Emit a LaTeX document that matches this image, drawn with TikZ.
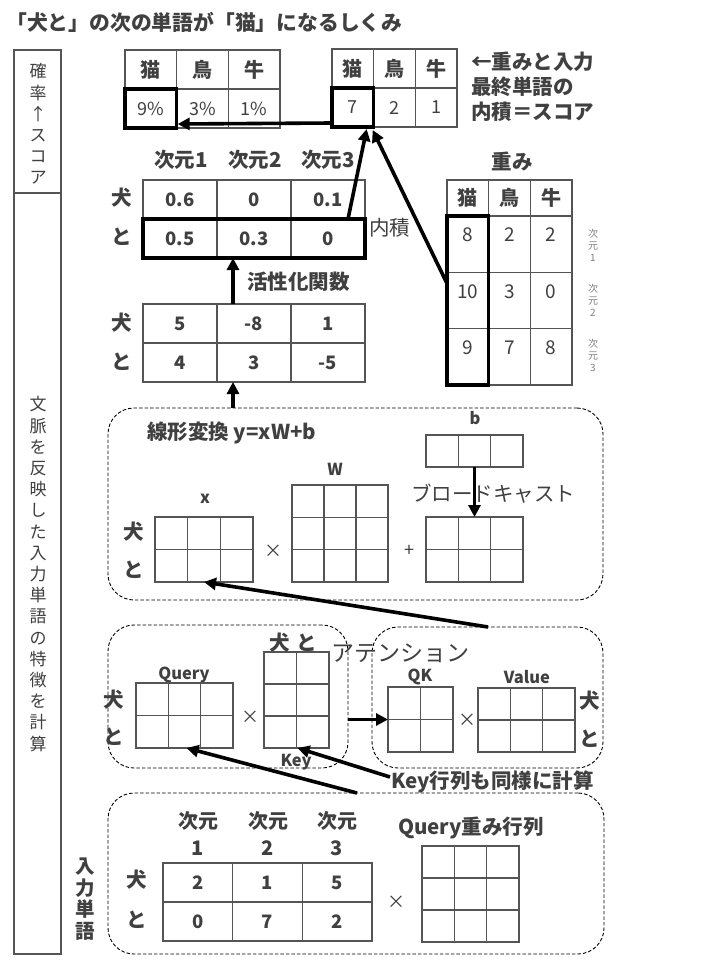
\documentclass[tikz,border=0pt]{standalone}
\usepackage{fontspec}
\setmainfont{Noto Sans CJK JP}
\usetikzlibrary{arrows.meta,fit}
\definecolor{tc}{HTML}{404040}
\definecolor{lc}{HTML}{555555}
\tikzset{
  cell/.style={draw=lc, line width=1.2pt, inner sep=0pt, outer sep=0pt},
  hl/.style={draw=black, line width=3.6pt, inner sep=0pt, outer sep=0pt},
  arr/.style={line width=3.6pt, -{Triangle[length=12pt,width=12pt]}},
  dbox/.style={draw=black, line width=0.9pt, dash pattern=on 3.5pt off 2pt, rounded corners=26pt, inner sep=0pt},
  bl/.style={font=\bfseries\fontsize{20.5}{23}\selectfont, text=tc, inner sep=0pt},
  bs/.style={font=\bfseries\fontsize{16.5}{19}\selectfont, text=tc, inner sep=0pt},
  nb/.style={font=\bfseries\fontsize{18.5}{21}\selectfont, text=tc, inner sep=0pt},
  nr/.style={font=\fontsize{18}{21}\selectfont, text=tc, inner sep=0pt},
  hd/.style={font=\bfseries\fontsize{20}{22}\selectfont, text=tc, inner sep=0pt},
  rg/.style={font=\fontsize{20.5}{23}\selectfont, text=tc, inner sep=0pt},
  op/.style={font=\fontsize{18}{20}\selectfont, text=tc, inner sep=0pt},
  vt/.style={font=\fontsize{17}{21.2}\selectfont, text=tc, align=center, inner sep=0pt},
  sm/.style={font=\fontsize{10}{12}\selectfont, text=gray, align=center, inner sep=0pt},
}
\newcommand\mtx[7]{%
  \pgfmathsetmacro\mxcw{(#4-#2)/#6}%
  \pgfmathsetmacro\mxrh{(#5-#3)/#7}%
  \node[inner sep=0pt,outer sep=0pt,minimum width={(#4-#2)*1pt},minimum height={(#5-#3)*1pt}] (#1) at ({(#2+#4)/2},{(#3+#5)/2}) {};%
  \foreach \mxc in {1,...,#6}{\foreach \mxr in {1,...,#7}{%
    \node[cell,minimum width=\mxcw pt,minimum height=\mxrh pt] (#1-\mxr-\mxc) at ({#2+(\mxc-0.5)*\mxcw},{#3+(\mxr-0.5)*\mxrh}) {};%
  }}%
}
\newcommand\rowtext[4]{\foreach \mxv [count=\mxc] in {#4}{\node[#3] (#1-t#2-\mxc) at (#1-#2-\mxc) {\mxv};}}
\begin{document}
\begin{tikzpicture}[x=1pt,y=-1pt]
\fill[white] (0,0) rectangle (720,960);
\useasboundingbox (0,0) rectangle (720,960);

% title
\node[font=\bfseries\fontsize{20.8}{24}\selectfont, text=tc, anchor=west, inner sep=0pt] (title) at (6,22) {「犬と」の次の単語が「猫」になるしくみ};

% left column
\node[draw=lc, line width=1.2pt, minimum width=47pt, minimum height=143pt, inner sep=0pt] (colA) at (37.5,121.5) {};
\node[draw=lc, line width=1.2pt, minimum width=47pt, minimum height=761pt, inner sep=0pt] (colB) at (37.5,573.5) {};
\node[vt] (colAt) at (38,124) {確\\率\\↑\\ス\\コ\\ア};
\node[vt] (colBt) at (38,574) {文\\脈\\を\\反\\映\\し\\た\\入\\力\\単\\語\\の\\特\\徴\\を\\計\\算};
\node[bl, align=center, font=\bfseries\fontsize{19.5}{21.5}\selectfont] (inw) at (85,899) {入\\力\\単\\語};

% top tables
\mtx{ta}{125}{50}{280}{128}{3}{2}
\rowtext{ta}{1}{hd}{猫,鳥,牛}
\rowtext{ta}{2}{nr}{9\%,3\%,1\%}
\node[hl, fit=(ta-2-1)] (hla) {};
\mtx{tb}{332}{49}{457}{127}{3}{2}
\rowtext{tb}{1}{hd}{猫,鳥,牛}
\rowtext{tb}{2}{nr}{7,2,1}
\node[hl, fit=(tb-2-1)] (hlb) {};
\draw[arr] ([yshift=4pt]hlb.south west) -- ([yshift=4pt,xshift=1pt]hla.south east);

\node[bl, anchor=west] (r1) at (471,62) {←重みと入力};
\node[bl, anchor=west] (r2) at (471,87) {最終単語の};
\node[bl, anchor=west] (r3) at (471,112) {内積＝スコア};

% dims
\node[bl] (d1) at (181,160) {次元1};
\node[bl] (d2) at (255,160) {次元2};
\node[bl] (d3) at (328,160) {次元3};

% activated table
\mtx{mid}{143}{180}{365}{258}{3}{2}
\rowtext{mid}{1}{nb}{0.6,0,0.1}
\rowtext{mid}{2}{nb}{0.5,0.3,0}
\node[bl] (mw1) at (122,198) {犬};
\node[bl] (mw2) at (122,237) {と};
\node[hl, fit=(mid-2-1)(mid-2-3)] (hlm) {};
\node[rg, anchor=west] (naiseki) at (369,228) {内積};

% pre-activation table
\mtx{pre}{143}{304}{365}{382}{3}{2}
\rowtext{pre}{1}{nb}{5,-8,1}
\rowtext{pre}{2}{nb}{4,3,-5}
\node[bl] (pw1) at (122,323) {犬};
\node[bl] (pw2) at (122,362) {と};
\coordinate (ax) at (233,0);
\draw[arr] (pre.north -| ax) -- (hlm.south -| ax);
\node[bl, anchor=west] (act) at (247,282) {活性化関数};

% weights
\node[bl] (wt) at (512,162) {重み};
\mtx{wh}{447}{180}{572}{216}{3}{1}
\rowtext{wh}{1}{hd}{猫,鳥,牛}
\mtx{wb}{447}{216}{572}{385}{3}{3}
\foreach \mxv [count=\mxi from 0] in {8,2,2,10,3,0,9,7,8}{
  \pgfmathtruncatemacro\mxr{int(\mxi/3)+1}
  \pgfmathtruncatemacro\mxc{mod(\mxi,3)+1}
  \node[nr, font=\fontsize{19}{21}\selectfont] (wb-t\mxr-\mxc) at ([yshift=-19pt]wb-\mxr-\mxc.north) {\mxv};
}
\node[hl, fit=(wb-1-1)(wb-3-1)] (hlw) {};
\node[sm] (s1) at (593,245) {次\\元\\1};
\node[sm] (s2) at (593,300) {次\\元\\2};
\node[sm] (s3) at (593,355) {次\\元\\3};

\draw[arr] ([xshift=-17pt]hlm.north east) -- ([xshift=-7pt,yshift=-2pt]hlb.south east);
\draw[arr] ([yshift=17pt]hlw.west) -- ([xshift=-1pt,yshift=-3pt]hlb.south east);

% linear box
\node[dbox, minimum width=495pt, minimum height=192pt] (box1) at (355.5,504) {};
\draw[arr] (box1.north -| ax) -- (pre.south -| ax);
\node[bl, anchor=west] (lin) at (147,433) {線形変換 y=xW+b};
\node[bs] (lb) at (475,418) {b};
\mtx{bm}{426}{435}{523}{467}{3}{1}
\node[bs] (lW) at (335,469) {W};
\mtx{Wm}{292}{485}{388}{582}{3}{3}
\node[bs] (lx) at (205,499) {x};
\mtx{xm}{155}{517}{253}{582}{3}{2}
\node[bl] (xw1) at (134,532) {犬};
\node[bl] (xw2) at (134,570) {と};
\node[op] (m1) at (273,551) {×};
\node[op] (p1) at (409,551) {+};
\mtx{ym}{426}{517}{523}{582}{3}{2}
\node[rg, anchor=west] (bc) at (411,494) {ブロードキャスト};
\draw[arr] (bm.south) -- (ym.north);

% attention boxes
\node[dbox, minimum width=240pt, minimum height=143pt] (box2) at (228,696.5) {};
\node[dbox, minimum width=231pt, minimum height=141pt] (box3) at (487.5,697.5) {};
\coordinate (la) at (488,627);
\draw[arr] (la) -- (xm.south);

\node[bs] (lq) at (184,675) {Query};
\mtx{qm}{136}{683}{233}{748}{3}{2}
\node[bl] (qw1) at (114,700) {犬};
\node[bl] (qw2) at (114,737) {と};
\node[op] (m2) at (250,717) {×};
\mtx{km}{264}{652}{329}{748}{2}{3}
\node[bl] (kw1) at (280,643) {犬};
\node[bl] (kw2) at (307,643) {と};
\node[bs] (lk) at (296,762) {Key};
\node[font=\fontsize{23}{25}\selectfont, text=tc, inner sep=0pt, anchor=west] (att) at (331,653) {アテンション};
\node[bs] (lqk) at (420,677) {QK};
\mtx{qkm}{388}{687}{453}{752}{2}{2}
\draw[arr] (box2.east |- qkm.west) -- (qkm.west);
\node[op] (m3) at (467,720) {×};
\node[bs] (lv) at (527,677) {Value};
\mtx{vm}{478}{688}{575}{752}{3}{2}
\node[bl] (vw1) at (590,701) {犬};
\node[bl] (vw2) at (590,739) {と};
\node[bl, anchor=west] (keyc) at (391,782) {Key行列も同様に計算};

% input box
\node[dbox, minimum width=496pt, minimum height=161pt] (box4) at (356,873.5) {};
\coordinate (q0) at (357,793);
\coordinate (k0) at (390,777);
\draw[arr] (q0) -- ([xshift=2pt]qm.south);
\draw[arr] (k0) -- ([xshift=1pt]km.south);

\node[bl, align=center, font=\bfseries\fontsize{20}{27}\selectfont] (id1) at (198,833.5) {次元\\1};
\node[bl, align=center, font=\bfseries\fontsize{20}{27}\selectfont] (id2) at (268,833.5) {次元\\2};
\node[bl, align=center, font=\bfseries\fontsize{20}{27}\selectfont] (id3) at (337,833.5) {次元\\3};
\mtx{im}{163}{863}{372}{941}{3}{2}
\rowtext{im}{1}{nb}{2,1,5}
\rowtext{im}{2}{nb}{0,7,2}
\node[bl] (iw1) at (137,880) {犬};
\node[bl] (iw2) at (137,920) {と};
\node[op] (m4) at (396,902) {×};
\node[bl] (lqw) at (471,828) {Query重み行列};
\mtx{qwm}{422}{846}{519}{942}{3}{3}
\end{tikzpicture}
\end{document}
